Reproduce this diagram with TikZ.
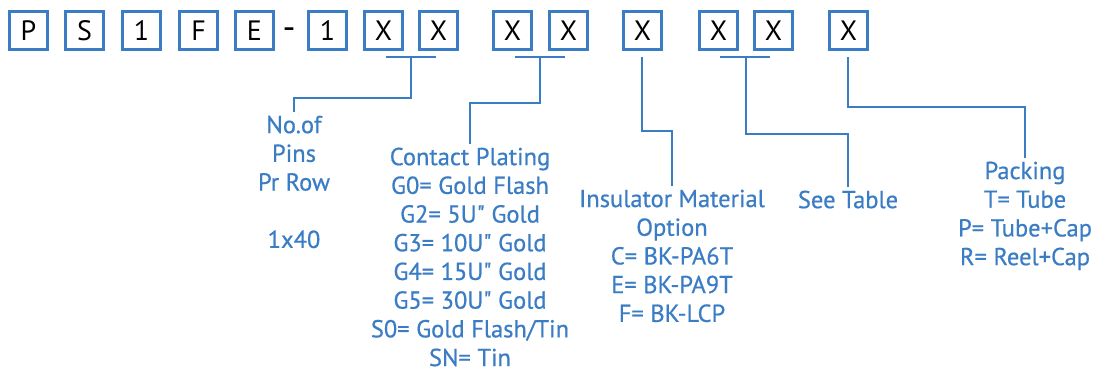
\documentclass[tikz,border=0pt]{standalone}
\usepackage{fontspec}
\setmainfont{PT Sans}
\newfontfamily\lblfont[FakeBold=0.6]{PT Sans}
\definecolor{bblue}{HTML}{3A7DC4}
\begin{document}
\begin{tikzpicture}[x=1pt,y=-1pt,
  cbox/.style={draw=bblue,line width=2.6pt,minimum width=38.5pt,minimum height=38.5pt,inner sep=0pt,
     font=\fontsize{28}{30}\selectfont,text=black,fill=white},
  lbl/.style={anchor=north,align=center,inner sep=3.5pt,text=bblue,
     font=\lblfont\fontsize{24.5}{28.7}\selectfont},
  conn/.style={draw=bblue,line width=2.6pt}]
\useasboundingbox (0,0) rectangle (1102,371);
% boxes (centres)
\node[cbox] (b1) at (28.5,30.5) {P};
\node[cbox] (b2) at (84.5,30.5) {S};
\node[cbox] (b3) at (141.5,30.5) {1};
\node[cbox] (b4) at (198.5,30.5) {F};
\node[cbox] (b5) at (254.5,30.5) {E};
\node[text=black,font=\fontsize{36}{38}\selectfont,inner sep=0pt] (dash) at (289,34) {-};
\node[cbox] (b6) at (327.5,30.5) {1};
\node[cbox] (b7) at (383.5,30.5) {X};
\node[cbox] (b8) at (438.5,30.5) {X};
\node[cbox] (b9) at (512.5,30.5) {X};
\node[cbox] (b10) at (568.5,30.5) {X};
\node[cbox] (b11) at (642.5,30.5) {X};
\node[cbox] (b12) at (718.5,30.5) {X};
\node[cbox] (b13) at (773.5,30.5) {X};
\node[cbox] (b14) at (848.5,30.5) {X};
% labels
\node[lbl] (pins) at (294,112) {No.of\\Pins\\Pr Row\\[28.7pt]1x40};
\node[lbl] (plat) at (470,144) {Contact Plating\\G0= Gold Flash\\G2= 5U\textquotedbl{} Gold\\G3= 10U\textquotedbl{} Gold\\G4= 15U\textquotedbl{} Gold\\G5= 30U\textquotedbl{} Gold\\S0= Gold Flash/Tin\\SN= Tin};
\node[lbl] (ins) at (672,186) {Insulator Material\\Option\\C= BK-PA6T\\E= BK-PA9T\\F= BK-LCP};
\node[lbl] (tab) at (848,187) {See Table};
\node[lbl] (pack) at (1025,158) {Packing\\T= Tube\\P= Tube+Cap\\R= Reel+Cap};
% bracket coordinates
\coordinate (k1l) at (386,57); \coordinate (k1r) at (436,57); \coordinate (k1m) at (411,57);
\coordinate (k2l) at (515,57); \coordinate (k2r) at (565,57); \coordinate (k2m) at (540,57);
\coordinate (k3m) at (642,57);
\coordinate (k4l) at (720,57); \coordinate (k4r) at (770,57); \coordinate (k4m) at (746,57);
\coordinate (k5m) at (848,57);
% connectors
\draw[conn] (k1l) -- (k1r);
\draw[conn] (k1m) -- (411,98) -| (pins.north);
\draw[conn] (k2l) -- (k2r);
\draw[conn] (k2m) -- (540,103) -| (plat.north);
\draw[conn] (k3m) -- (642,131) -| (ins.north);
\draw[conn] (k4l) -- (k4r);
\draw[conn] (k4m) -- (746,134) -| (tab.north);
\draw[conn] (k5m) -- (848,107) -| (pack.north);
\end{tikzpicture}
\end{document}
